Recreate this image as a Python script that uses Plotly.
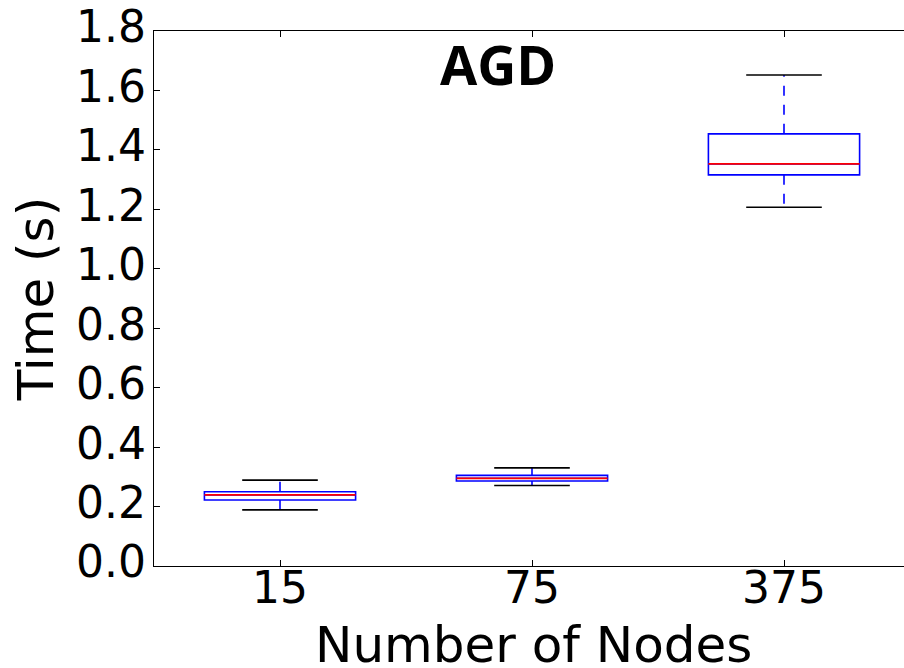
import plotly.graph_objects as go

# Data (seconds)
categories = ["15", "75", "375"]
positions = [1, 2, 3]
lower_whisker = [0.189, 0.271, 1.207]
q1 = [0.222, 0.286, 1.316]
median = [0.239, 0.295, 1.353]
q3 = [0.250, 0.305, 1.454]
upper_whisker = [0.289, 0.330, 1.652]
y_ticks = [0.0, 0.2, 0.4, 0.6, 0.8, 1.0, 1.2, 1.4, 1.6, 1.8]

BOX_W = 0.6
CAP_W = 0.3
BLUE = "#0000ff"
RED = "#ff0000"
LW = 1.6

fig = go.Figure()

# Box bodies
fig.add_trace(go.Box(
    x=positions, q1=q1, median=median, q3=q3,
    lowerfence=q1, upperfence=q3,
    width=BOX_W, boxpoints=False,
    fillcolor="rgba(0,0,0,0)",
    line=dict(color=BLUE, width=LW),
    whiskerwidth=0, hoverinfo="skip", showlegend=False,
))

# Whiskers (dashed blue)
wx, wy = [], []
for p, lo, a, b, hi in zip(positions, lower_whisker, q1, q3, upper_whisker):
    wx += [p, p, None, p, p, None]
    wy += [b, hi, None, a, lo, None]
fig.add_trace(go.Scatter(x=wx, y=wy, mode="lines",
                         line=dict(color=BLUE, width=LW, dash="10px,9px"),
                         hoverinfo="skip", showlegend=False))

# Caps (black)
cx, cy = [], []
for p, lo, hi in zip(positions, lower_whisker, upper_whisker):
    cx += [p - CAP_W / 2, p + CAP_W / 2, None, p - CAP_W / 2, p + CAP_W / 2, None]
    cy += [hi, hi, None, lo, lo, None]
fig.add_trace(go.Scatter(x=cx, y=cy, mode="lines",
                         line=dict(color="black", width=LW),
                         hoverinfo="skip", showlegend=False))

# Medians (red)
mx, my = [], []
for p, m in zip(positions, median):
    mx += [p - BOX_W / 2, p + BOX_W / 2, None]
    my += [m, m, None]
fig.add_trace(go.Scatter(x=mx, y=my, mode="lines",
                         line=dict(color=RED, width=LW + 0.2),
                         hoverinfo="skip", showlegend=False))

W, H = 904, 668
ML, MT, MB, MR = 154, 31, 102, 0
PW, PH = W - ML - MR, H - MT - MB
px_per_unit = 252.0
x_hi = 0.5 + PW / px_per_unit

fig.update_layout(
    width=W, height=H,
    margin=dict(l=ML, r=MR, t=MT, b=MB, pad=0),
    paper_bgcolor="white", plot_bgcolor="white",
    font=dict(family="DejaVu Sans", color="black"),
    showlegend=False,
    xaxis=dict(
        range=[0.5, x_hi], tickvals=positions, ticktext=categories,
        showgrid=False, zeroline=False,
        showline=True, linecolor="black", linewidth=1.4, mirror="ticks",
        ticks="inside", ticklen=6, tickwidth=1, tickcolor="black",
        tickfont=dict(size=44, family="DejaVu Sans"), ticklabelstandoff=-17,
    ),
    yaxis=dict(
        range=[0, 1.8], tickvals=y_ticks, ticktext=[f"{v:.1f}" for v in y_ticks],
        showgrid=False, zeroline=False,
        showline=True, linecolor="black", linewidth=1.4, mirror=False,
        ticks="inside", ticklen=6, tickwidth=1, tickcolor="black",
        tickfont=dict(size=44, family="DejaVu Sans"), ticklabelstandoff=-2,
        ticklabelshift=-4,
        title=dict(text="Time (s)", font=dict(size=50, family="DejaVu Sans"), standoff=6),
    ),
    annotations=[
        dict(
            text="<b>AGD</b>", xref="paper", yref="paper",
            x=(497.5 - ML) / PW, y=1 - (64 - MT) / PH,
            xanchor="center", yanchor="middle", showarrow=False,
            font=dict(size=54, family="Open Sans", color="black"),
        ),
        dict(
            text="Number of Nodes", xref="paper", yref="paper",
            x=(533 - ML) / PW, y=1 - (645 - MT) / PH,
            xanchor="center", yanchor="middle", showarrow=False,
            font=dict(size=50, family="DejaVu Sans", color="black"),
        ),
    ],
)

fig.write_html("out.html")
